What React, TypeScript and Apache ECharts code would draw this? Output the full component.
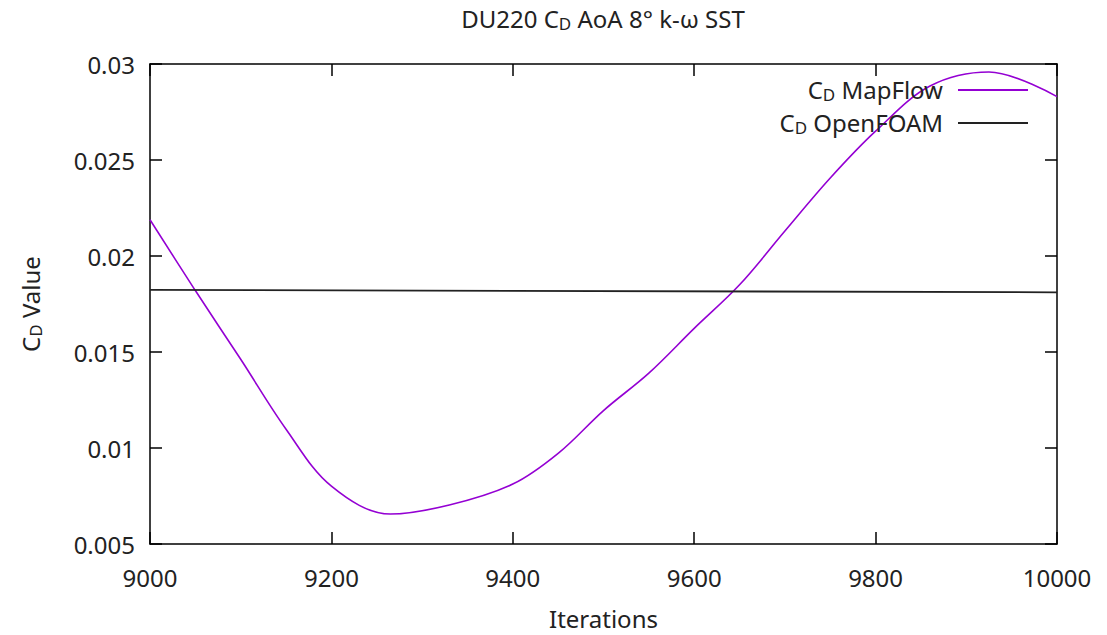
import React, { useEffect, useRef } from "react";
import * as echarts from "echarts";

const mapFlowX = [9000, 9050, 9100, 9150, 9200, 9265, 9330, 9400, 9450, 9500, 9550, 9600, 9650, 9700, 9750, 9800, 9860, 9925, 10000];
const mapFlowY = [0.02189, 0.0182, 0.01462, 0.01098, 0.00801, 0.00656, 0.00703, 0.00812, 0.00972, 0.01195, 0.0139, 0.01623, 0.0185, 0.0213, 0.02406, 0.0265, 0.02885, 0.02958, 0.0283];
const openFoamX = [9000, 10000];
const openFoamY = [0.01824, 0.01811];
const xTicks = [9000, 9200, 9400, 9600, 9800, 10000];
const yTicks = [0.005, 0.01, 0.015, 0.02, 0.025, 0.03];

const FONT = "Noto Sans";
const FS = 24;
const rich = {
  n: { fontSize: FS, fontFamily: FONT, color: "#222", lineHeight: 26, verticalAlign: "top" },
  s: { fontSize: 17, fontFamily: FONT, color: "#222", lineHeight: 13, verticalAlign: "bottom" },
};

export default function App() {
  const ref = useRef<HTMLDivElement>(null);
  useEffect(() => {
    const chart = echarts.init(ref.current!, null, { renderer: "svg" });
    const axisCommon = {
      axisLine: { show: true, lineStyle: { color: "#000", width: 1.5 } },
      axisTick: { show: true, inside: true, length: 12, lineStyle: { color: "#000", width: 1.5 } },
      splitLine: { show: false },
    };
    chart.setOption({
      animation: false,
      backgroundColor: "#fff",
      title: {
        text: "{n|DU220 C}{s|D}{n| AoA 8° k-ω SST}",
        left: 603,
        top: 6,
        textAlign: "center",
        padding: 0,
        textStyle: {
          fontWeight: "normal",
          rich: {
            n: { ...rich.n, fontWeight: "normal" },
            s: { ...rich.s, fontWeight: "normal" },
          },
        },
      },
      grid: { left: 150, right: 50, top: 64, bottom: 90, show: false },
      legend: [
        {
          data: ["MapFlow"],
          right: 79,
          top: 77,
          padding: 0,
          align: "right",
          icon: "rect",
          itemWidth: 70,
          itemHeight: 2,
          formatter: () => "{n|C}{s|D}{n| MapFlow}",
          textStyle: { rich, padding: [0, 10, 0, 0] },
        },
        {
          data: ["OpenFOAM"],
          right: 79,
          top: 110,
          padding: 0,
          align: "right",
          icon: "rect",
          itemWidth: 70,
          itemHeight: 2,
          formatter: () => "{n|C}{s|D}{n| OpenFOAM}",
          textStyle: { rich, padding: [0, 10, 0, 0] },
        },
      ],
      xAxis: [
        {
          type: "value",
          min: 9000,
          max: 10000,
          interval: 200,
          position: "bottom",
          name: "Iterations",
          nameLocation: "middle",
          nameGap: 62,
          nameTextStyle: { fontSize: FS, fontFamily: FONT, color: "#222" },
          axisLabel: {
            fontSize: FS,
            fontFamily: FONT,
            color: "#222",
            margin: 21,
            formatter: (v: number) => (xTicks.includes(v) ? String(v) : ""),
          },
          ...axisCommon,
        },
        {
          type: "value",
          min: 9000,
          max: 10000,
          interval: 200,
          position: "top",
          axisLabel: { show: false },
          ...axisCommon,
        },
      ],
      yAxis: [
        {
          type: "value",
          min: 0.005,
          max: 0.03,
          interval: 0.005,
          position: "left",
          name: "{n|C}{s|D}{n| Value}",
          nameLocation: "middle",
          nameGap: 106,
          nameTextStyle: { rich },
          axisLabel: {
            fontSize: FS,
            fontFamily: FONT,
            color: "#222",
            margin: 15,
            formatter: (v: number) => {
              const t = yTicks.find((y) => Math.abs(y - v) < 1e-9);
              return t === undefined ? "" : String(t);
            },
          },
          ...axisCommon,
        },
        {
          type: "value",
          min: 0.005,
          max: 0.03,
          interval: 0.005,
          position: "right",
          axisLabel: { show: false },
          ...axisCommon,
        },
      ],
      series: [
        {
          name: "MapFlow",
          type: "line",
          data: mapFlowX.map((x, i) => [x, mapFlowY[i]]),
          smooth: 0.35,
          showSymbol: false,
          symbol: "none",
          lineStyle: { color: "#9400d3", width: 1.6 },
          itemStyle: { color: "#9400d3" },
        },
        {
          name: "OpenFOAM",
          type: "line",
          data: openFoamX.map((x, i) => [x, openFoamY[i]]),
          showSymbol: false,
          symbol: "none",
          lineStyle: { color: "#222", width: 1.8 },
          itemStyle: { color: "#222" },
        },
      ],
    });
    return () => chart.dispose();
  }, []);
  return (
    <div
      ref={ref}
      style={{ position: "fixed", left: 0, top: 0, width: 1107, height: 635, background: "#fff" }}
    />
  );
}
